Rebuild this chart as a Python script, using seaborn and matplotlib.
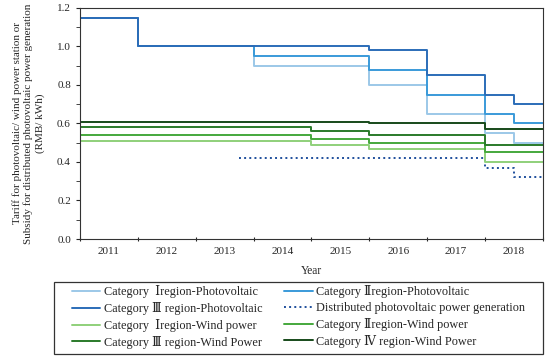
import matplotlib
matplotlib.use("Agg")
import matplotlib.pyplot as plt
from matplotlib.patches import Rectangle
from matplotlib.ticker import MultipleLocator, FormatStrFormatter
import seaborn as sns

# step breakpoints (start of each tariff period, last point closes the step)
pv1_years = [2011, 2012, 2014, 2016, 2017, 2018, 2018.5, 2019]
pv1_tariff = [1.15, 1.00, 0.90, 0.80, 0.65, 0.55, 0.50, 0.50]
pv2_years = [2011, 2012, 2014, 2016, 2017, 2018, 2018.5, 2019]
pv2_tariff = [1.15, 1.00, 0.95, 0.88, 0.75, 0.65, 0.60, 0.60]
pv3_years = [2011, 2012, 2016, 2017, 2018, 2018.5, 2019]
pv3_tariff = [1.15, 1.00, 0.98, 0.85, 0.75, 0.70, 0.70]
dist_years = [2013.75, 2018, 2018.5, 2019]
dist_subsidy = [0.42, 0.37, 0.32, 0.32]
wind_years = [2011, 2015, 2016, 2018, 2019]
wind1_tariff = [0.51, 0.49, 0.47, 0.40, 0.40]
wind2_tariff = [0.54, 0.52, 0.50, 0.45, 0.45]
wind3_tariff = [0.58, 0.56, 0.54, 0.49, 0.49]
wind4_tariff = [0.61, 0.61, 0.60, 0.57, 0.57]
year_labels = ["2011", "2012", "2013", "2014", "2015", "2016", "2017", "2018"]

series = [
    ("Category  Ⅰregion-Photovoltaic", pv1_years, pv1_tariff, "#9cc8e8", "-"),
    ("Category Ⅱregion-Photovoltaic", pv2_years, pv2_tariff, "#3a9ad9", "-"),
    ("Category Ⅲ region-Photovoltaic", pv3_years, pv3_tariff, "#2b6cb8", "-"),
    ("Distributed photovoltaic power generation", dist_years, dist_subsidy, "#1f4f9c", ":"),
    ("Category  Ⅰregion-Wind power", wind_years, wind1_tariff, "#8fd07a", "-"),
    ("Category Ⅱregion-Wind power", wind_years, wind2_tariff, "#45a83c", "-"),
    ("Category Ⅲ region-Wind Power", wind_years, wind3_tariff, "#2a7a2a", "-"),
    ("Category Ⅳ region-Wind Power", wind_years, wind4_tariff, "#174a1a", "-"),
]

sns.set_style("ticks")
plt.rcParams["font.family"] = ["Liberation Serif", "DejaVu Serif"]
plt.rcParams["font.size"] = 8

fig = plt.figure(figsize=(5.5, 3.58), dpi=100)
ax = fig.add_axes([0.1455, 0.3324, 0.8415, 0.6454])

handles = {}
for name, xs, ys, color, ls in series:
    sns.lineplot(x=xs, y=ys, ax=ax, color=color, linestyle=ls,
                 drawstyle="steps-post", linewidth=1.4, sort=False)
    handles[name] = ax.lines[-1]

ax.set_xlim(2011, 2019)
ax.set_ylim(0, 1.2)
ax.set_xticks(range(2011, 2020))
ax.set_xticklabels([])
ax.set_xticks([int(y) + 0.5 for y in year_labels], minor=True)
ax.set_xticklabels(year_labels, minor=True)
ax.tick_params(axis="x", which="minor", length=0, labelsize=8, pad=6)
ax.tick_params(axis="x", which="major", length=3, direction="inout")
ax.yaxis.set_major_locator(MultipleLocator(0.2))
ax.yaxis.set_minor_locator(MultipleLocator(0.1))
ax.yaxis.set_major_formatter(FormatStrFormatter("%.1f"))
ax.tick_params(axis="y", which="both", direction="out", length=3, labelsize=8)
for sp in ax.spines.values():
    sp.set_linewidth(0.8)
    sp.set_color("#333333")

ax.set_xlabel("Year", fontsize=8.3, labelpad=6)
ax.set_ylabel("Tariff for photovoltaic/ wind power station or\n"
              "Subsidy for distributed photovoltaic power generation\n"
              "(RMB/ kWh)", fontsize=8.0, labelpad=9, linespacing=1.25)

# legend without its own frame; the box is drawn separately
order = [series[i][0] for i in (0, 2, 4, 6, 1, 3, 5, 7)]
leg = fig.legend([handles[n] for n in order], order, ncol=2,
                 loc="upper left", bbox_to_anchor=(72 / 550, 1 - 285 / 358),
                 frameon=False, fontsize=8.8, handlelength=2.3,
                 handletextpad=0.3, labelspacing=0.32, borderpad=0,
                 borderaxespad=0, columnspacing=1.8)
fig.patches.append(Rectangle((54 / 550, 1 - 354 / 358), 489 / 550, 72 / 358,
                             transform=fig.transFigure, fill=False,
                             edgecolor="#333333", linewidth=0.9))

fig.savefig("out.png", dpi=100)
